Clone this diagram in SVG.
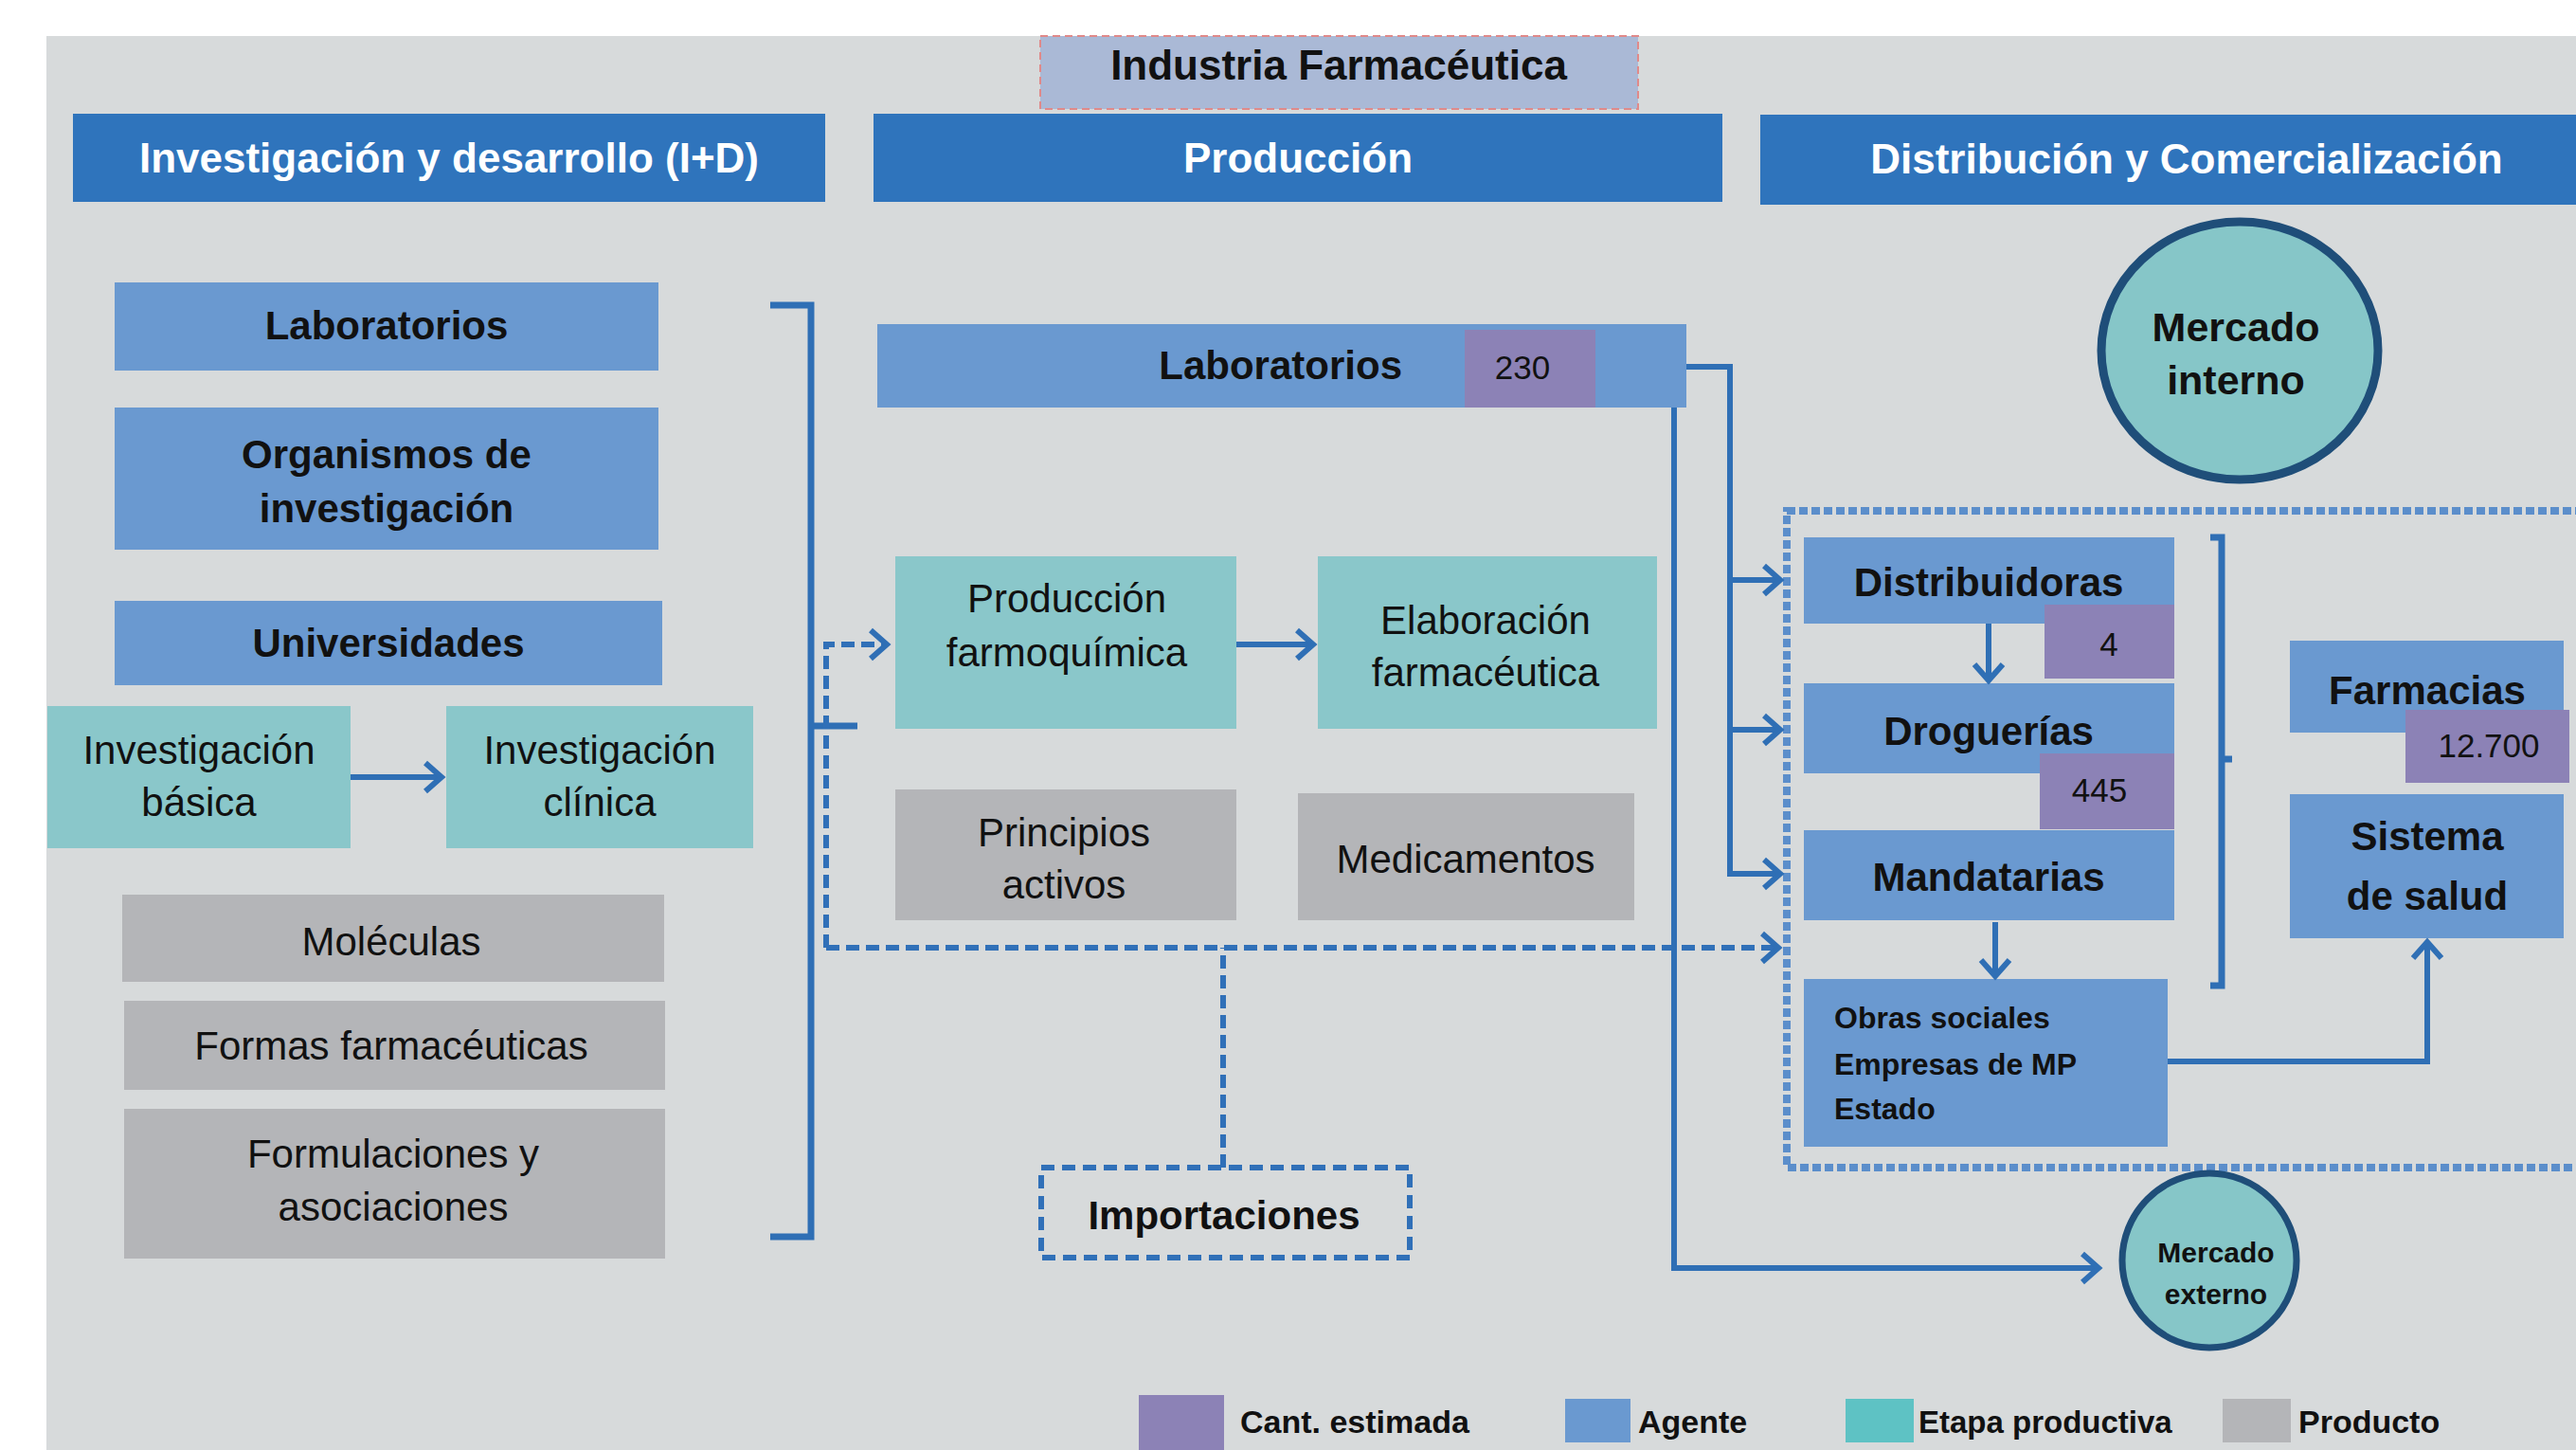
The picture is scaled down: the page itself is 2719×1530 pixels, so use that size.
<svg xmlns="http://www.w3.org/2000/svg" width="2719" height="1530" viewBox="0 0 2719 1530">
<defs>
<style>
.hdr{fill:#2F74BC}
.agent{fill:#6A99D0}
.stage{fill:#8AC7CA}
.prod{fill:#B4B5B8}
.qty{fill:#8C82B6}
text{font-family:"Liberation Sans",Arial,sans-serif;fill:#111;text-anchor:middle}
.b{font-weight:bold}
.w{fill:#FFFFFF;font-weight:bold;font-size:44px}
.f42{font-size:42px}
.f35{font-size:35px}
.line{fill:none;stroke:#2F6FB5;stroke-width:6}
.dash{fill:none;stroke:#3070B8;stroke-width:6;stroke-dasharray:14 7}
.brk{fill:none;stroke:#2F6FB5;stroke-width:7}
.circ{fill:#86C6C8;stroke:#1F4E79}
</style>
<marker id="arr" markerUnits="userSpaceOnUse" markerWidth="30" markerHeight="40" refX="20" refY="18" orient="auto">
<path d="M3,3 L20,18 L3,33" fill="none" stroke="#2F6FB5" stroke-width="6"/>
</marker>
</defs>
<rect x="0" y="0" width="2719" height="1530" fill="#FFFFFF"/>
<rect x="49" y="38" width="2670" height="1492" fill="#D7DADB"/>

<g id="title">
<rect x="1098" y="38" width="631" height="77" fill="#AAB9D6" stroke="#E08A8A" stroke-width="2" stroke-dasharray="8 5"/>
<text x="1413" y="84" class="b" font-size="44">Industria Farmacéutica</text>
</g>

<g id="hdr-id"><rect class="hdr" x="77" y="120" width="794" height="93"/><text x="474" y="182" class="w">Investigación y desarrollo (I+D)</text></g>
<g id="hdr-prod"><rect class="hdr" x="922" y="120" width="896" height="93"/><text x="1370" y="182" class="w">Producción</text></g>
<g id="hdr-dist"><rect class="hdr" x="1858" y="121" width="861" height="95"/><text x="2308" y="183" class="w">Distribución y Comercialización</text></g>

<g id="lab-id"><rect class="agent" x="121" y="298" width="574" height="93"/><text x="408" y="358" class="b f42">Laboratorios</text></g>
<g id="organismos"><rect class="agent" x="121" y="430" width="574" height="150"/><text x="408" y="494" class="b f42">Organismos de</text><text x="408" y="551" class="b f42">investigación</text></g>
<g id="universidades"><rect class="agent" x="121" y="634" width="578" height="89"/><text x="410" y="693" class="b f42">Universidades</text></g>
<g id="inv-basica"><rect class="stage" x="50" y="745" width="320" height="150"/><text x="210" y="806" class="f42">Investigación</text><text x="210" y="861" class="f42">básica</text></g>
<g id="inv-clinica"><rect class="stage" x="471" y="745" width="324" height="150"/><text x="633" y="806" class="f42">Investigación</text><text x="633" y="861" class="f42">clínica</text></g>
<g id="moleculas"><rect class="prod" x="129" y="944" width="572" height="92"/><text x="413" y="1008" class="f42">Moléculas</text></g>
<g id="formas"><rect class="prod" x="131" y="1056" width="571" height="94"/><text x="413" y="1118" class="f42">Formas farmacéuticas</text></g>
<g id="formulaciones"><rect class="prod" x="131" y="1170" width="571" height="158"/><text x="415" y="1232" class="f42">Formulaciones y</text><text x="415" y="1288" class="f42">asociaciones</text></g>

<g id="lab-prod"><rect class="agent" x="926" y="342" width="854" height="88"/><rect class="qty" x="1546" y="348" width="138" height="82"/><text x="1480" y="400" class="b f42" style="text-anchor:end">Laboratorios</text><text x="1607" y="400" class="f35">230</text></g>
<g id="prod-farmoquimica"><rect class="stage" x="945" y="587" width="360" height="182"/><text x="1126" y="646" class="f42">Producción</text><text x="1126" y="703" class="f42">farmoquímica</text></g>
<g id="elab-farmaceutica"><rect class="stage" x="1391" y="587" width="358" height="182"/><text x="1568" y="669" class="f42">Elaboración</text><text x="1568" y="724" class="f42">farmacéutica</text></g>
<g id="principios"><rect class="prod" x="945" y="833" width="360" height="138"/><text x="1123" y="893" class="f42">Principios</text><text x="1123" y="948" class="f42">activos</text></g>
<g id="medicamentos"><rect class="prod" x="1370" y="837" width="355" height="134"/><text x="1547" y="921" class="f42">Medicamentos</text></g>
<g id="importaciones"><rect x="1099" y="1232" width="389" height="95" fill="none" stroke="#3070B8" stroke-width="6" stroke-dasharray="14 8"/><text x="1292" y="1297" class="b f42">Importaciones</text></g>

<g id="mercado-interno"><ellipse class="circ" cx="2364" cy="370" rx="146" ry="136" stroke-width="9"/><text x="2360" y="360" class="b" font-size="43">Mercado</text><text x="2360" y="416" class="b" font-size="43">interno</text></g>

<g id="dist-box"><rect x="1886" y="539" width="900" height="693" fill="none" stroke="#5B8ECB" stroke-width="8" stroke-dasharray="9 4"/></g>
<g id="distribuidoras"><rect class="agent" x="1904" y="567" width="391" height="91"/><rect class="qty" x="2158" y="638" width="137" height="78"/><text x="2099" y="629" class="b f42">Distribuidoras</text><text x="2226" y="692" class="f35">4</text></g>
<g id="droguerias"><rect class="agent" x="1904" y="721" width="391" height="95"/><rect class="qty" x="2153" y="795" width="142" height="80"/><text x="2099" y="786" class="b f42">Droguerías</text><text x="2216" y="846" class="f35">445</text></g>
<g id="mandatarias"><rect class="agent" x="1904" y="876" width="391" height="95"/><text x="2099" y="940" class="b f42">Mandatarias</text></g>
<g id="obras"><rect class="agent" x="1904" y="1033" width="384" height="177"/><text x="1936" y="1085" class="b" font-size="32" style="text-anchor:start">Obras sociales</text><text x="1936" y="1134" class="b" font-size="32" style="text-anchor:start">Empresas de MP</text><text x="1936" y="1181" class="b" font-size="32" style="text-anchor:start">Estado</text></g>
<g id="farmacias"><rect class="agent" x="2417" y="676" width="289" height="97"/><rect class="qty" x="2539" y="749" width="173" height="77"/><text x="2562" y="743" class="b f42">Farmacias</text><text x="2627" y="799" class="f35">12.700</text></g>
<g id="sistema-salud"><rect class="agent" x="2417" y="838" width="289" height="152"/><text x="2562" y="897" class="b f42">Sistema</text><text x="2562" y="960" class="b f42">de salud</text></g>
<g id="mercado-externo"><ellipse class="circ" cx="2332" cy="1330" rx="92" ry="92" stroke-width="7"/><text x="2339" y="1332" class="b" font-size="30">Mercado</text><text x="2339" y="1376" class="b" font-size="30">externo</text></g>

<g id="connectors">
<path class="brk" d="M813,322 L856,322 L856,1305 L813,1305 M856,766 L905,766"/>
<path class="line" d="M370,820 L466,820" marker-end="url(#arr)"/>
<path class="line" d="M1305,680 L1386,680" marker-end="url(#arr)"/>
<path class="dash" d="M872,1000 L872,680 L936,680" marker-end="url(#arr)"/>
<path class="dash" d="M872,1000 L1877,1000" marker-end="url(#arr)"/>
<path class="dash" d="M1291,1232 L1291,1000"/>
<path class="line" d="M1780,387 L1826,387 L1826,922 L1879,922" marker-end="url(#arr)"/>
<path class="line" d="M1826,612 L1879,612" marker-end="url(#arr)"/>
<path class="line" d="M1826,770 L1879,770" marker-end="url(#arr)"/>
<path class="line" d="M1767,430 L1767,1338 L2215,1338" marker-end="url(#arr)"/>
<path class="line" d="M2099,658 L2099,718" marker-end="url(#arr)"/>
<path class="line" d="M2106,973 L2106,1030" marker-end="url(#arr)"/>
<path class="line" d="M2288,1120 L2562,1120 L2562,994" marker-end="url(#arr)"/>
<path class="brk" d="M2333,567 L2345,567 L2345,1040 L2333,1040 M2345,801 L2356,801"/>
</g>

<g id="legend">
<rect class="qty" x="1202" y="1472" width="90" height="58"/><text x="1309" y="1512" class="b" font-size="34" style="text-anchor:start">Cant. estimada</text>
<rect class="agent" x="1652" y="1476" width="69" height="46"/><text x="1729" y="1512" class="b" font-size="34" style="text-anchor:start">Agente</text>
<rect x="1948" y="1476" width="72" height="46" fill="#5EC2C4"/><text x="2025" y="1512" class="b" font-size="33" style="text-anchor:start">Etapa productiva</text>
<rect class="prod" x="2346" y="1476" width="72" height="46"/><text x="2426" y="1512" class="b" font-size="34" style="text-anchor:start">Producto</text>
</g>
</svg>
